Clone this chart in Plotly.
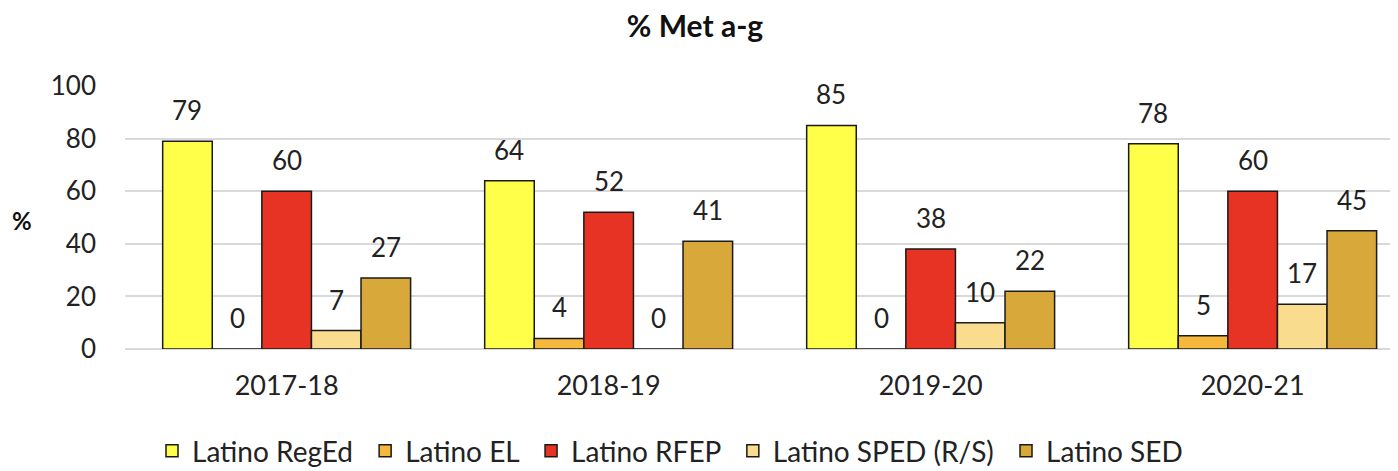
import plotly.graph_objects as go

years = ["2017-18", "2018-19", "2019-20", "2020-21"]
series_names = ["Latino RegEd", "Latino EL", "Latino RFEP", "Latino SPED (R/S)", "Latino SED"]
reged = [79, 64, 85, 78]
el = [0, 4, 0, 5]
rfep = [60, 52, 38, 60]
sped = [7, 0, 10, 17]
sed = [27, 41, 22, 45]
colors = ["#FFFF4A", "#F5B83D", "#E63323", "#F9DC8E", "#D8A83A"]

all_values = [reged, el, rfep, sped, sed]

# page body adds an 8px offset, so the figure is sized to fit the window
OFF = 8
W, H = 1398 - OFF, 471 - OFF
ml, mr, mt, mb = 125 - OFF, 0, 86 - OFF, 122
bargap = 0.23
cat_px = 322.0
plot_w = W - ml - mr
plot_h = H - mt - mb
x_lo = -0.502
x_hi = x_lo + plot_w / cat_px

fig = go.Figure()
n = len(series_names)
for k, (name, vals, col) in enumerate(zip(series_names, all_values, colors)):
    pad = "\u00a0" if k < n - 1 else ""
    fig.add_trace(go.Bar(
        x=years, y=vals, name=name + pad,
        marker=dict(color=col, line=dict(color="#1a1a1a", width=1.5)),
    ))

bar_w = cat_px * (1 - bargap) / n
for j, vals in enumerate(all_values):
    for yr, v in zip(years, vals):
        fig.add_annotation(
            x=yr, y=v, text=str(v), showarrow=False,
            xshift=(j - 2) * bar_w, yshift=31, yanchor="middle",
            font=dict(size=26, color="#222"),
        )

fig.add_annotation(
    text="<b>%</b>", xref="paper", yref="paper", x=(22 - 125) / plot_w, y=(349 - 220) / plot_h,
    xanchor="center", yanchor="middle", showarrow=False, font=dict(size=24, color="#111"),
)

fig.update_layout(
    width=W, height=H,
    margin=dict(l=ml, r=mr, t=mt, b=mb, autoexpand=False),
    barmode="group", bargap=bargap, bargroupgap=0,
    paper_bgcolor="white", plot_bgcolor="white",
    font=dict(family="Lato, Carlito, 'Open Sans', sans-serif", size=26, color="#222"),
    title=dict(text="<b>% Met a-g</b>", x=(695 - OFF) / W, xanchor="center", y=1 - (26 - OFF) / H,
               yanchor="middle", font=dict(size=30, color="#111")),
    xaxis=dict(range=[x_lo, x_hi], showgrid=False, showline=False, ticks="", tickfont=dict(size=27),
               ticklabelstandoff=18, automargin=False),
    yaxis=dict(range=[0, 100], dtick=20, showgrid=True, gridcolor="#d9d9d9", gridwidth=1.5,
               zeroline=True, zerolinecolor="#d9d9d9", zerolinewidth=1.5,
               showline=False, ticks="", tickfont=dict(size=26), ticklabelstandoff=28,
               automargin=False),
    legend=dict(orientation="h", x=(670 - 125) / plot_w, xanchor="center", y=(349 - 451) / plot_h,
                yanchor="middle", font=dict(size=28), itemwidth=30, traceorder="normal"),
    showlegend=True,
)

fig.write_html("out.html")
